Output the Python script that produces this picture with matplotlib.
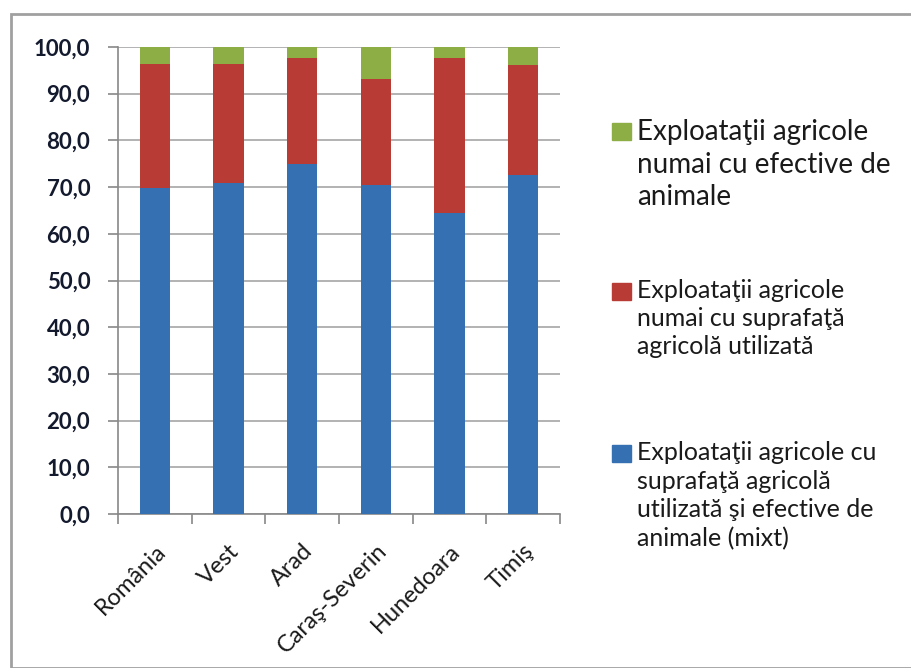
import matplotlib.pyplot as plt
import numpy as np
from matplotlib.patches import Rectangle
from matplotlib.ticker import FuncFormatter

plt.rcParams['font.family'] = ['Lato', 'DejaVu Sans']

# date (%)
judete = ['România', 'Vest', 'Arad', 'Caraş-Severin', 'Hunedoara', 'Timiş']
mixt = [69.9, 70.9, 74.9, 70.4, 64.5, 72.6]
doar_suprafata = [26.5, 25.4, 22.8, 22.7, 33.2, 23.5]
doar_animale = [3.6, 3.7, 2.3, 6.9, 2.3, 3.9]

lbl_mixt = 'Exploataţii agricole cu\nsuprafaţă agricolă\nutilizată şi efective de\nanimale (mixt)'
lbl_supr = 'Exploataţii agricole\nnumai cu suprafaţă\nagricolă utilizată'
lbl_anim = 'Exploataţii agricole\nnumai cu efective de\nanimale'

c_blue = '#3470B2'
c_red = '#B83C35'
c_green = '#8DAD45'
txt = '#1a1a1a'

W, H = 912, 668
fig = plt.figure(figsize=(W/100, H/100), dpi=100)
ax = fig.add_axes([118/W, 1 - 514/H, 442/W, 467/H])

x = np.arange(len(judete))
ax.bar(x, mixt, width=0.41, color=c_blue, zorder=3)
ax.bar(x, doar_suprafata, bottom=mixt, width=0.41, color=c_red, zorder=3)
jos = np.array(mixt) + np.array(doar_suprafata)
ax.bar(x, doar_animale, bottom=jos, width=0.41, color=c_green, zorder=3)

ax.set_xlim(-0.5, len(judete) - 0.5)
ax.set_ylim(0, 100)
ax.set_yticks(np.arange(0, 101, 10))
ax.yaxis.set_major_formatter(FuncFormatter(lambda v, p: f'{v:.1f}'.replace('.', ',')))
ax.grid(axis='y', color='#A6A6A6', linewidth=1.2, zorder=0)

ax.set_xticks(x)
ax.set_xticklabels(judete, rotation=45, ha='right', rotation_mode='anchor',
                   fontsize=17, color=txt)
ax.tick_params(axis='x', length=0, pad=19)
ax.set_xticks(np.arange(-0.5, len(judete)), minor=True)
ax.tick_params(axis='x', which='minor', length=7, color='#888888', width=1.2)
ax.tick_params(axis='y', length=7, color='#888888', width=1.2, labelsize=16,
               labelcolor='#141a2e', pad=13)
for t in ax.get_yticklabels():
    t.set_fontweight('bold')

for s in ['top', 'right']:
    ax.spines[s].set_visible(False)
for s in ['left', 'bottom']:
    ax.spines[s].set_color('#888888')
    ax.spines[s].set_linewidth(1.2)

# legenda
leg_items = [(c_green, lbl_anim, 20, 123, 1.32),
             (c_red, lbl_supr, 18, 283, 1.27),
             (c_blue, lbl_mixt, 18, 445, 1.3)]
for col, lbl, fs, ytop, ls in leg_items:
    fig.patches.append(Rectangle((612/W, 1 - (ytop + 17)/H), 19/W, 17/H,
                                 transform=fig.transFigure, color=col))
    fig.text(637/W, 1 - (ytop - 4)/H, lbl, fontsize=fs, va='top', ha='left',
             color=txt, linespacing=ls)

# chenar exterior
fig.patches.append(Rectangle((11/W, 0), 1.2, 1 - 14/H, transform=fig.transFigure,
                             fill=False, edgecolor='#A0A0A0', linewidth=2))

fig.savefig('out.png', dpi=100)
